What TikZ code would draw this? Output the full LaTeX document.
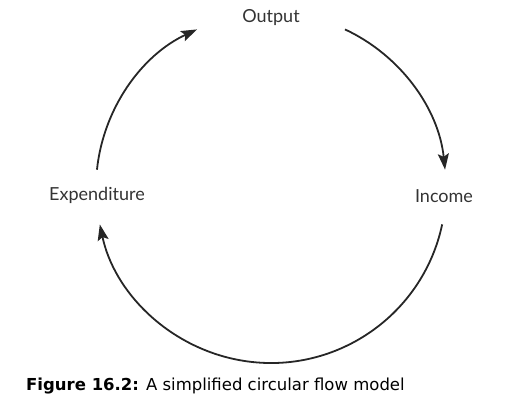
\documentclass[tikz,border=0pt]{standalone}
\usepackage{fontspec}
\setmainfont{Lato}
\newfontfamily\capfont{DejaVu Sans}
\usetikzlibrary{arrows.meta}

\begin{document}
\begin{tikzpicture}
            [x=1pt, y=-1pt, >={Stealth[length=16pt, width=11pt, inset=3pt]},
             flow/.style={->, line width=1.8pt, draw=black!85},
             label/.style={text=black!80, font=\fontsize{18}{21}\selectfont, inner sep=0pt}]
            \useasboundingbox (0, 0) rectangle (514, 403);
            \coordinate (centre) at (271, 188);
            \node[label] (output) at (271, 18) {Output};
            \node[label] (income) at (444, 196) {Income};
            \node[label] (expenditure) at (97, 195) {Expenditure};
            \node[anchor=base west, inner sep=0pt, font=\capfont\fontsize{16.5}{20}\selectfont] (caption) at (26, 390) {\textbf{Figure 16.2:} A simplified circular flow model};

            \draw [flow] ([shift={(-174:175)}]centre) arc [start angle=-174, end angle=-115, radius=175];
            \draw [flow] ([shift={(-65:175)}]centre) arc [start angle=-65, end angle=-6, radius=175];
            \draw [flow] ([shift={(12:175)}]centre) arc [start angle=12, end angle=168, radius=175];
        \end{tikzpicture}
\end{document}
